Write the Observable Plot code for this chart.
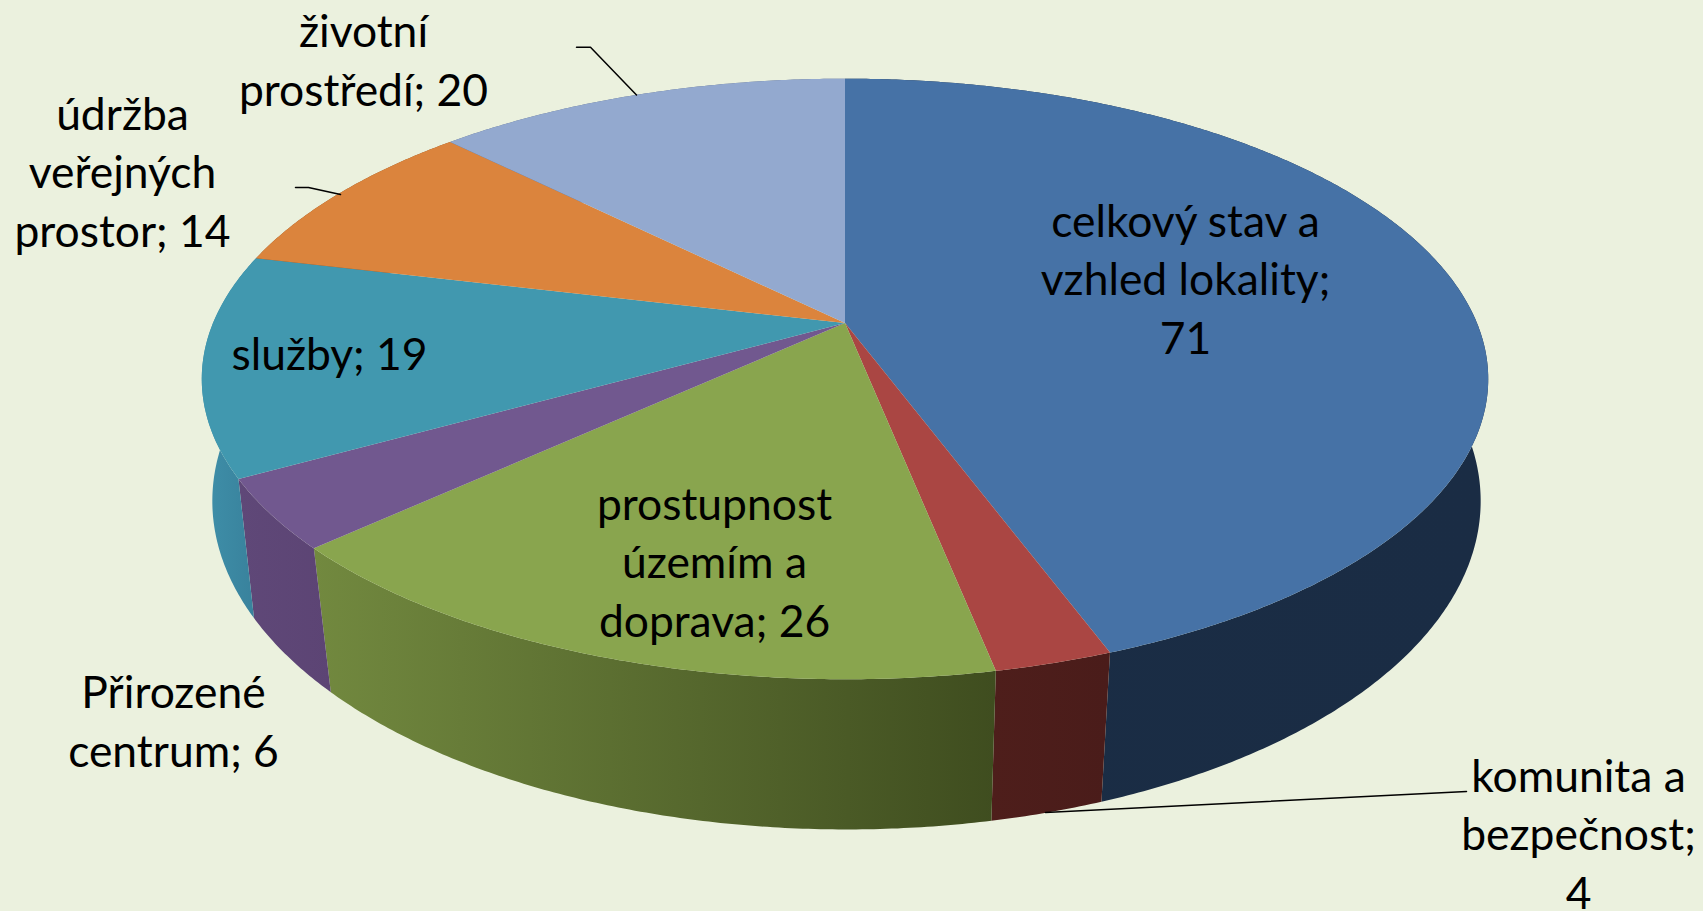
<!DOCTYPE html>
<html lang="cs">
<head>
<meta charset="utf-8">
<script src="https://cdn.jsdelivr.net/npm/d3@7"></script>
<script src="https://cdn.jsdelivr.net/npm/@observablehq/plot@0.6"></script>
<style>
html,body{margin:0;padding:0;background:#ebf1de;overflow:hidden}
svg{display:block}
</style>
</head>
<body>
<div id="chart"></div>
<script>
// ----- data -----
const categories = ["celkový stav a vzhled lokality","komunita a bezpečnost","prostupnost územím a doprava","Přirozené centrum","služby","údržba veřejných prostor","životní prostředí"];
const values = [71,4,26,6,19,14,20];
const labelTexts = ["celkový stav a\nvzhled lokality;\n71","komunita a\nbezpečnost;\n4","prostupnost\núzemím a\ndoprava; 26","Přirozené\ncentrum; 6","služby; 19","údržba\nveřejných\nprostor; 14","životní\nprostředí; 20"];

// ----- styles -----
const topColors = ["#4672a6","#aa4643","#89a54e","#71588f","#4198af","#db843d","#93a9cf"];
const sideFrom  = ["#1a2d45","#4e1e1b","#72893f","#5f4878","#3f90a9","#8a5226","#5d6b85"];
const sideTo    = ["#1a2c44","#4a1c1a","#3f4d1f","#5c4474","#38809b","#8a5226","#5d6b85"];

// ----- layout: projection of the pie's top and bottom discs -----
const W = 1703, H = 911;
const topDisc = {cx: 844.5, a: 632, b: 289.9, cy: 322.6, k: 0.186};
const botDisc = {cx: 846, a: 626, b: 320, cy: 448, k: 0.16};
const labelX = [1185,1578,714,173,329,122,363];
const labelY = [276,831,559,718,351,169,57];
const leaderX = [[576,590,636],[295,308,340],[1466,1045]];
const leaderY = [[46.7,46.7,94.5],[187,187,194],[791,812]];

const proj = (d, t) => {
  const u = Math.sin(t), v = -Math.cos(t), den = 1 - d.k * v;
  return [d.cx + d.a * u / den, d.cy + d.b * v / den];
};
const total = d3.sum(values);
let acc = 0;
const slices = values.map((v, i) => {
  const t0 = acc / total * 2 * Math.PI; acc += v;
  return {i, t0, t1: acc / total * 2 * Math.PI};
});
const arc = (d, s, rev) => {
  const n = Math.max(2, Math.ceil((s.t1 - s.t0) / 0.008));
  const pts = d3.range(n + 1).map(j => proj(d, s.t0 + (s.t1 - s.t0) * j / n));
  return rev ? pts.reverse() : pts;
};
const topPts = slices.flatMap(s => [[topDisc.cx, topDisc.cy], ...arc(topDisc, s)].map(p => ({x:p[0], y:p[1], z:s.i, fill:topColors[s.i], name:categories[s.i]})));
const sidePts = slices.flatMap(s => [...arc(topDisc, s), ...arc(botDisc, s, true)].map(p => ({x:p[0], y:p[1], z:s.i, fill:`url(#side${s.i})`, name:categories[s.i]})));
const leaders = leaderX.flatMap((xs, i) => xs.map((x, j) => ({x, y: leaderY[i][j], z: i})));
const labels = labelTexts.map((text, i) => ({text, x: labelX[i], y: labelY[i]}));

const defs = () => {
  const ns = "http://www.w3.org/2000/svg";
  const el = document.createElementNS(ns, "defs");
  slices.forEach(s => {
    const xs = [...arc(topDisc, s), ...arc(botDisc, s)].map(p => p[0]);
    const g = document.createElementNS(ns, "linearGradient");
    g.setAttribute("id", `side${s.i}`);
    g.setAttribute("gradientUnits", "userSpaceOnUse");
    g.setAttribute("x1", d3.min(xs)); g.setAttribute("x2", d3.max(xs));
    g.setAttribute("y1", 0); g.setAttribute("y2", 0);
    [[0, sideFrom[s.i]], [1, sideTo[s.i]]].forEach(([o, c]) => {
      const st = document.createElementNS(ns, "stop");
      st.setAttribute("offset", o); st.setAttribute("stop-color", c);
      g.appendChild(st);
    });
    el.appendChild(g);
  });
  return el;
};

const chart = Plot.plot({
  width: W, height: H,
  margin: 0,
  style: {background: "#ebf1de", overflow: "hidden"},
  x: {domain: [0, W], range: [0, W], axis: null},
  y: {domain: [0, H], range: [0, H], axis: null},
  marks: [
    defs,
    Plot.line(sidePts, {x:"x", y:"y", z:"z", fill:"fill", stroke:"none", curve:"linear-closed"}),
    Plot.line(topPts,  {x:"x", y:"y", z:"z", fill:"fill", stroke:"none", curve:"linear-closed"}),
    Plot.line(leaders, {x:"x", y:"y", z:"z", stroke:"#000", strokeWidth:1.5, curve:"linear"}),
    Plot.text(labels, {x:"x", y:"y", text:"text", fill:"#000", fontFamily:"Lato", fontSize:44.4, lineHeight:1.32, textAnchor:"middle", lineAnchor:"middle"})
  ]
});
document.getElementById("chart").appendChild(chart);
</script>
</body>
</html>
